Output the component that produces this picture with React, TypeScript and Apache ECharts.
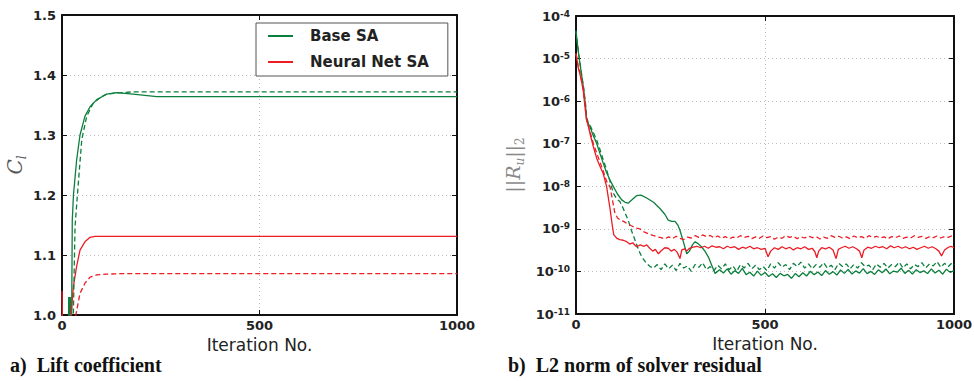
import React, { useEffect, useRef } from "react";
import * as echarts from "echarts";

// ---------- Data ----------
const X_TICKS = [0, 500, 1000];
const CL_TICKS = [1.0, 1.1, 1.2, 1.3, 1.4, 1.5];
const LEGEND_NAMES = ["Base SA", "Neural Net SA"];

// Lift coefficient, [iteration, Cl]
const CL_BASE_SOLID: [number, number][] = [
  [0, 0.92], [8, 0.9], [14, 0.94], [16, 0.95], [17, 1.03], [18, 0.96], [19, 1.03], [20, 0.97],
  [21, 1.03], [22, 0.98], [23, 1.02], [24.5, 1.0], [26, 1.158], [29, 1.2], [37, 1.258], [45.6, 1.3],
  [58, 1.331], [71, 1.347], [88, 1.359], [113, 1.368], [138, 1.3705], [180, 1.368], [240, 1.364],
  [300, 1.364], [1000, 1.364],
];
const CL_BASE_DASHED: [number, number][] = [
  [0, 0.9], [20, 0.92], [28.7, 1.0], [33, 1.147], [39, 1.2], [50, 1.292], [62.5, 1.331], [79, 1.353],
  [100, 1.364], [113, 1.368], [138, 1.37], [180, 1.372], [1000, 1.372],
];
const CL_NN_SOLID: [number, number][] = [
  [0, 1.04], [1, 1.0], [2, 0.95], [10, 0.9], [20, 0.96], [23, 1.0], [28.7, 1.047], [37, 1.081],
  [45.6, 1.108], [58, 1.122], [71, 1.1295], [83.5, 1.131], [1000, 1.131],
];
const CL_NN_DASHED: [number, number][] = [
  [0, 1.0], [2, 0.95], [20, 0.9], [35, 1.0], [45.6, 1.036], [58, 1.053], [71, 1.063], [88, 1.067],
  [113, 1.068], [150, 1.069], [1000, 1.069],
];

// Residual norm, [iteration, ||R_u||_2]
const RES_BASE_SOLID: [number, number][] = [
  [0, 4.5e-5], [3, 2.5e-5], [6, 1.5e-5], [10, 8e-6], [15, 4e-6], [20, 2e-6], [25, 8e-7], [28, 3.6e-7],
  [32, 3e-7], [37, 2.5e-7], [45, 1.6e-7], [55, 1.0e-7], [63, 6e-8], [72, 3.5e-8], [80, 2.2e-8],
  [90, 1.4e-8], [99, 9.8e-9], [110, 6.5e-9], [121, 4.8e-9], [130, 4.2e-9], [138, 4.0e-9], [148, 4.8e-9],
  [160, 6.0e-9], [172, 6.2e-9], [187, 5.3e-9], [205, 4.2e-9], [222, 3.0e-9], [235, 2.2e-9],
  [244, 1.6e-9], [253, 1.5e-9], [262, 1.5e-9], [270, 1.2e-9], [275, 9.3e-10], [284, 5e-10],
  [293, 2.6e-10], [300, 3.0e-10], [308, 4.2e-10], [315, 5.0e-10], [323, 4.5e-10], [332, 3.8e-10],
  [341, 3.0e-10], [350, 2.2e-10], [359, 1.4e-10], [368, 9.0e-11], [380, 1.1e-10], [390, 9.2e-11],
  [400, 1.15e-10], [410, 8.6e-11], [420, 1.04e-10], [430, 9.0e-11], [440, 1.18e-10], [450, 8.4e-11],
  [460, 9.6e-11], [470, 7.8e-11], [480, 1.02e-10], [490, 8.1e-11], [500, 9.4e-11], [510, 7.6e-11],
  [520, 8.8e-11], [530, 7.2e-11], [540, 9.0e-11], [550, 7.9e-11], [560, 8.5e-11], [570, 6.9e-11],
  [580, 8.9e-11], [590, 7.5e-11], [600, 9.3e-11], [610, 7.8e-11], [620, 1.01e-10], [630, 8.4e-11],
  [640, 9.7e-11], [650, 8.0e-11], [660, 1.05e-10], [670, 8.6e-11], [680, 9.9e-11], [690, 8.2e-11],
  [700, 1.08e-10], [710, 9.0e-11], [720, 1.12e-10], [730, 8.7e-11], [740, 1.03e-10], [750, 9.1e-11],
  [760, 1.16e-10], [770, 8.9e-11], [780, 1.0e-10], [790, 8.5e-11], [800, 1.09e-10], [810, 9.3e-11],
  [820, 1.14e-10], [830, 8.8e-11], [840, 1.02e-10], [850, 9.6e-11], [860, 1.19e-10], [870, 9.0e-11],
  [880, 1.06e-10], [890, 8.7e-11], [900, 1.1e-10], [910, 9.4e-11], [920, 1.03e-10], [930, 8.9e-11],
  [940, 1.15e-10], [950, 9.2e-11], [960, 1.07e-10], [970, 8.6e-11], [980, 1.13e-10], [990, 9.5e-11],
  [1000, 1.04e-10],
];
const RES_BASE_DASHED: [number, number][] = [
  [0, 4.5e-5], [3, 2.6e-5], [6, 1.6e-5], [10, 8.5e-6], [15, 4.2e-6], [20, 2.1e-6], [25, 9e-7],
  [28, 4.2e-7], [32, 3.2e-7], [37, 2.7e-7], [45, 1.9e-7], [55, 1.2e-7], [63, 7.5e-8], [72, 4.2e-8],
  [80, 2.6e-8], [90, 1.3e-8], [99, 6.8e-9], [108, 5e-9], [116, 4.4e-9], [125, 3.0e-9], [138, 1.6e-9],
  [147, 9e-10], [156, 5.5e-10], [165, 3.3e-10], [174, 2.2e-10], [185, 1.6e-10], [196, 1.3e-10],
  [205, 1.2e-10], [215, 1.45e-10], [225, 1.1e-10], [235, 1.5e-10], [245, 1.15e-10], [255, 1.4e-10],
  [265, 1.05e-10], [275, 1.55e-10], [285, 1.2e-10], [295, 1.35e-10], [305, 1.0e-10], [315, 1.45e-10],
  [325, 1.25e-10], [335, 1.6e-10], [345, 1.1e-10], [355, 1.3e-10], [365, 1.05e-10], [375, 1.4e-10],
  [385, 1.15e-10], [395, 1.5e-10], [405, 1.1e-10], [415, 1.35e-10], [425, 1.0e-10], [435, 1.45e-10],
  [445, 1.2e-10], [455, 1.55e-10], [465, 1.15e-10], [475, 1.4e-10], [485, 1.1e-10], [495, 1.3e-10],
  [505, 1.05e-10], [515, 1.5e-10], [525, 1.2e-10], [535, 1.6e-10], [545, 1.25e-10], [555, 1.45e-10],
  [565, 1.1e-10], [575, 1.55e-10], [585, 1.3e-10], [595, 1.65e-10], [605, 1.2e-10], [615, 1.5e-10],
  [625, 1.15e-10], [635, 1.45e-10], [645, 1.25e-10], [655, 1.6e-10], [665, 1.2e-10], [675, 1.4e-10],
  [685, 1.1e-10], [695, 1.55e-10], [705, 1.3e-10], [715, 1.5e-10], [725, 1.15e-10], [735, 1.45e-10],
  [745, 1.2e-10], [755, 1.6e-10], [765, 1.3e-10], [775, 1.4e-10], [785, 1.1e-10], [795, 1.5e-10],
  [805, 1.25e-10], [815, 1.55e-10], [825, 1.2e-10], [835, 1.45e-10], [845, 1.3e-10], [855, 1.65e-10],
  [865, 1.2e-10], [875, 1.5e-10], [885, 1.15e-10], [895, 1.45e-10], [905, 1.3e-10], [915, 1.6e-10],
  [925, 1.2e-10], [935, 1.5e-10], [945, 1.35e-10], [955, 1.7e-10], [965, 1.25e-10], [975, 1.55e-10],
  [985, 1.3e-10], [995, 1.6e-10], [1000, 1.4e-10],
];
const RES_NN_SOLID: [number, number][] = [
  [0, 1.3e-5], [3, 9e-6], [6, 6e-6], [10, 4.5e-6], [15, 2.8e-6], [19, 1.8e-6], [24, 7e-7], [28, 3.6e-7],
  [33, 2.5e-7], [38, 1.6e-7], [46, 8.5e-8], [55, 4.5e-8], [63, 3.0e-8], [72, 2.0e-8], [81, 9.8e-9],
  [90, 3e-9], [96, 1.2e-9], [100, 7.2e-10], [108, 6.0e-10], [116, 5.6e-10], [125, 5.4e-10],
  [134, 5.0e-10], [142, 4.4e-10], [150, 4.7e-10], [160, 3.8e-10], [170, 4.2e-10], [180, 3.9e-10],
  [187, 4.2e-10], [195, 3.5e-10], [203, 3.0e-10], [210, 3.3e-10], [218, 2.6e-10], [226, 3.1e-10],
  [235, 3.6e-10], [244, 3.5e-10], [252, 3.0e-10], [260, 3.3e-10], [268, 2.8e-10], [275, 2.0e-10],
  [280, 3.2e-10], [287, 3.4e-10], [293, 3.0e-10], [300, 3.5e-10], [310, 3.7e-10], [320, 3.9e-10],
  [330, 3.6e-10], [340, 3.9e-10], [350, 3.5e-10], [360, 4.0e-10], [370, 3.7e-10], [380, 3.8e-10],
  [390, 3.4e-10], [400, 3.9e-10], [410, 3.6e-10], [420, 3.8e-10], [430, 3.3e-10], [440, 3.7e-10],
  [450, 3.5e-10], [460, 3.9e-10], [470, 3.4e-10], [480, 3.6e-10], [490, 3.3e-10], [500, 3.5e-10],
  [508, 2.2e-10], [515, 3.0e-10], [525, 3.6e-10], [535, 3.3e-10], [545, 3.8e-10], [555, 3.4e-10],
  [565, 3.7e-10], [575, 3.2e-10], [585, 3.6e-10], [595, 3.4e-10], [605, 3.8e-10], [615, 3.3e-10],
  [625, 3.5e-10], [632, 2.9e-10], [637, 2.1e-10], [642, 3.0e-10], [650, 3.6e-10], [660, 3.4e-10],
  [670, 3.7e-10], [680, 3.2e-10], [688, 2.0e-10], [694, 3.3e-10], [702, 3.6e-10], [712, 3.9e-10],
  [722, 3.5e-10], [732, 3.8e-10], [742, 3.4e-10], [750, 3.0e-10], [756, 2.1e-10], [762, 3.2e-10],
  [772, 3.7e-10], [782, 3.5e-10], [792, 3.9e-10], [802, 3.6e-10], [812, 3.8e-10], [822, 3.4e-10],
  [832, 4.0e-10], [842, 3.6e-10], [852, 3.9e-10], [862, 3.5e-10], [872, 3.8e-10], [882, 3.4e-10],
  [892, 3.7e-10], [902, 3.3e-10], [912, 3.6e-10], [922, 3.9e-10], [932, 3.5e-10], [942, 3.8e-10],
  [952, 3.4e-10], [960, 3.0e-10], [967, 2.3e-10], [975, 3.2e-10], [985, 3.7e-10], [992, 3.9e-10],
  [1000, 3.6e-10],
];
const RES_NN_DASHED: [number, number][] = [
  [0, 1.3e-5], [3, 9.5e-6], [6, 6.5e-6], [10, 4.8e-6], [15, 3.0e-6], [19, 1.9e-6], [24, 8e-7],
  [28, 3.8e-7], [33, 2.6e-7], [38, 1.8e-7], [46, 1.0e-7], [55, 6e-8], [63, 3.8e-8], [72, 2.3e-8],
  [81, 1.3e-8], [90, 9.8e-9], [97, 4.5e-9], [103, 2.3e-9], [110, 1.8e-9], [118, 1.6e-9], [126, 1.5e-9],
  [134, 1.35e-9], [145, 1.2e-9], [158, 1.05e-9], [169, 1.0e-9], [180, 8.5e-10], [192, 7.6e-10],
  [203, 7.0e-10], [213, 6.6e-10], [225, 6.2e-10], [235, 5.8e-10], [245, 6.5e-10], [255, 5.9e-10],
  [265, 6.7e-10], [275, 6.0e-10], [285, 5.6e-10], [295, 6.4e-10], [305, 6.1e-10], [315, 6.9e-10],
  [325, 6.3e-10], [335, 7.2e-10], [345, 6.6e-10], [355, 7.0e-10], [365, 6.2e-10], [375, 6.8e-10],
  [385, 6.0e-10], [395, 6.6e-10], [405, 5.8e-10], [415, 6.4e-10], [425, 6.1e-10], [435, 6.9e-10],
  [445, 6.3e-10], [455, 6.7e-10], [465, 5.9e-10], [475, 6.5e-10], [485, 6.0e-10], [495, 6.8e-10],
  [505, 6.2e-10], [515, 6.6e-10], [525, 5.7e-10], [535, 6.4e-10], [545, 6.0e-10], [555, 6.9e-10],
  [565, 6.3e-10], [575, 6.7e-10], [585, 5.9e-10], [595, 6.5e-10], [605, 6.1e-10], [615, 6.8e-10],
  [625, 6.2e-10], [635, 6.6e-10], [645, 5.8e-10], [655, 6.4e-10], [665, 6.0e-10], [675, 6.9e-10],
  [685, 6.3e-10], [695, 6.7e-10], [705, 6.1e-10], [715, 6.5e-10], [725, 5.9e-10], [735, 6.8e-10],
  [745, 6.2e-10], [755, 6.6e-10], [765, 6.0e-10], [775, 6.9e-10], [785, 6.3e-10], [795, 6.7e-10],
  [805, 6.1e-10], [815, 6.5e-10], [825, 5.8e-10], [835, 6.6e-10], [845, 6.2e-10], [855, 6.8e-10],
  [865, 6.0e-10], [875, 6.4e-10], [885, 6.1e-10], [895, 6.9e-10], [905, 6.3e-10], [915, 6.7e-10],
  [925, 6.0e-10], [935, 6.5e-10], [945, 6.2e-10], [955, 6.8e-10], [965, 6.1e-10], [975, 6.6e-10],
  [985, 6.3e-10], [995, 6.9e-10], [1000, 6.4e-10],
];

// ---------- Styles ----------
const GREEN = "#0b7f3c";
const RED = "#ec1c24";
const TICK_FONT = "DejaVu Sans";
const AXIS_COLOR = "#111";

const labelStyle = {
  fontFamily: TICK_FONT,
  fontWeight: "bold" as const,
  fontSize: 13,
  color: "#222",
};

const splitLineStyle = {
  show: true,
  lineStyle: { color: "#bbbbbb", type: [1, 3] as number[], width: 1 },
};

function frameAxis(extra: any) {
  return {
    axisLine: { show: true, onZero: false, lineStyle: { color: AXIS_COLOR, width: 2 } },
    axisTick: { show: true, inside: true, length: 5, lineStyle: { color: AXIS_COLOR, width: 1 } },
    ...extra,
  };
}

function lineSeries(name: string, data: [number, number][], color: string, dashed: boolean, gi: number) {
  return {
    name,
    type: "line",
    xAxisIndex: gi * 2,
    yAxisIndex: gi * 2,
    data,
    symbol: "none",
    showSymbol: false,
    clip: true,
    lineStyle: { color, width: 1.3, type: dashed ? [5, 3] : "solid" },
    itemStyle: { color },
    emphasis: { disabled: true },
  };
}

export default function App() {
  const ref = useRef<HTMLDivElement>(null);

  useEffect(() => {
    if (!ref.current) return;
    const chart = echarts.init(ref.current, null, { renderer: "svg" });

    const xCommon = (gi: number, pos: "bottom" | "top") =>
      frameAxis({
        type: "value",
        gridIndex: gi,
        position: pos,
        min: X_TICKS[0],
        max: X_TICKS[X_TICKS.length - 1],
        interval: X_TICKS[1] - X_TICKS[0],
        axisLabel:
          pos === "bottom"
            ? { ...labelStyle, margin: 4, showMinLabel: true, showMaxLabel: true, formatter: (v: number) => String(v) }
            : { show: false },
        splitLine: pos === "bottom" ? splitLineStyle : { show: false },
        name: pos === "bottom" ? "Iteration No." : "",
        nameLocation: "middle",
        nameGap: 20,
        nameTextStyle: { fontFamily: TICK_FONT, fontSize: 17, color: "#222", verticalAlign: "top" },
      });

    const clAxis = (pos: "left" | "right") =>
      frameAxis({
        type: "value",
        gridIndex: 0,
        position: pos,
        min: CL_TICKS[0],
        max: CL_TICKS[CL_TICKS.length - 1],
        interval: 0.1,
        axisLabel: pos === "left" ? { ...labelStyle, margin: 6, formatter: (v: number) => v.toFixed(1) } : { show: false },
        splitLine: pos === "left" ? splitLineStyle : { show: false },
        name: pos === "left" ? "{c|C}{l|l}" : "",
        nameLocation: "middle",
        nameGap: 34,
        nameRotate: 90,
        nameTextStyle: {
          rich: {
            c: { fontFamily: "DejaVu Serif", fontStyle: "italic", fontSize: 20, color: "#555", lineHeight: 26 },
            l: { fontFamily: "DejaVu Serif", fontStyle: "italic", fontSize: 12, color: "#555", verticalAlign: "bottom", lineHeight: 26 },
          },
        },
      });

    const resAxis = (pos: "left" | "right") =>
      frameAxis({
        type: "log",
        logBase: 10,
        gridIndex: 1,
        position: pos,
        min: 1e-11,
        max: 1e-4,
        interval: 1,
        axisLabel:
          pos === "left"
            ? {
                margin: 6,
                formatter: (v: number) => `{b|10}{s|${Math.round(Math.log10(v))}}`,
                rich: {
                  b: { ...labelStyle, lineHeight: 14, verticalAlign: "middle" },
                  s: { ...labelStyle, fontSize: 9, lineHeight: 10, padding: [0, 0, 8, 0], verticalAlign: "top" },
                },
              }
            : { show: false },
        splitLine: pos === "left" ? splitLineStyle : { show: false },
        name: pos === "left" ? "{n|||}{r|R}{u|u}{n|||}{t|2}" : "",
        nameLocation: "middle",
        nameGap: 50,
        nameRotate: 90,
        nameTextStyle: {
          rich: {
            n: { fontFamily: "DejaVu Serif", fontSize: 19, color: "#888", lineHeight: 26 },
            r: { fontFamily: "DejaVu Serif", fontStyle: "italic", fontSize: 19, color: "#888", lineHeight: 26 },
            u: { fontFamily: "DejaVu Serif", fontStyle: "italic", fontSize: 12, color: "#888", verticalAlign: "bottom", lineHeight: 26 },
            t: { fontFamily: "DejaVu Serif", fontSize: 12, color: "#888", verticalAlign: "bottom", lineHeight: 26 },
          },
        },
      });

    chart.setOption({
      animation: false,
      backgroundColor: "#fff",
      grid: [
        { left: 62, top: 15, width: 395, height: 300, outerBoundsMode: "none", containLabel: false },
        { left: 576, top: 16, width: 378, height: 298, outerBoundsMode: "none", containLabel: false },
      ],
      xAxis: [xCommon(0, "bottom"), xCommon(0, "top"), xCommon(1, "bottom"), xCommon(1, "top")],
      yAxis: [clAxis("left"), clAxis("right"), resAxis("left"), resAxis("right")],
      legend: {
        data: LEGEND_NAMES,
        left: 256,
        top: 23,
        orient: "vertical",
        backgroundColor: "#fff",
        borderColor: "#555",
        borderWidth: 1,
        borderRadius: 0,
        padding: [4, 19, 5, 12],
        itemGap: 8,
        itemWidth: 25,
        itemHeight: 2,
        icon: "rect",
        selectedMode: false,
        textStyle: {
          fontFamily: TICK_FONT,
          fontWeight: "bold",
          fontSize: 15,
          color: "#222",
          lineHeight: 18,
          padding: [0, 0, 0, 12],
        },
      },
      graphic: [
        {
          type: "text",
          left: 10,
          top: 355,
          style: { text: "a)  Lift coefficient", font: 'bold 20px "Liberation Serif"', fill: "#111" },
        },
        {
          type: "text",
          left: 508,
          top: 355,
          style: { text: "b)  L2 norm of solver residual", font: 'bold 20px "Liberation Serif"', fill: "#111" },
        },
      ],
      series: [
        lineSeries("Base SA", CL_BASE_SOLID, GREEN, false, 0),
        lineSeries("Neural Net SA", CL_NN_SOLID, RED, false, 0),
        lineSeries("Base SA (dashed)", CL_BASE_DASHED, GREEN, true, 0),
        lineSeries("Neural Net SA (dashed)", CL_NN_DASHED, RED, true, 0),
        lineSeries("Base SA", RES_BASE_SOLID, GREEN, false, 1),
        lineSeries("Base SA (dashed)", RES_BASE_DASHED, GREEN, true, 1),
        lineSeries("Neural Net SA (dashed)", RES_NN_DASHED, RED, true, 1),
        lineSeries("Neural Net SA", RES_NN_SOLID, RED, false, 1),
      ],
    });

    return () => chart.dispose();
  }, []);

  return (
    <div
      ref={ref}
      style={{ position: "absolute", left: 0, top: 0, width: 974, height: 381, background: "#fff" }}
    />
  );
}
